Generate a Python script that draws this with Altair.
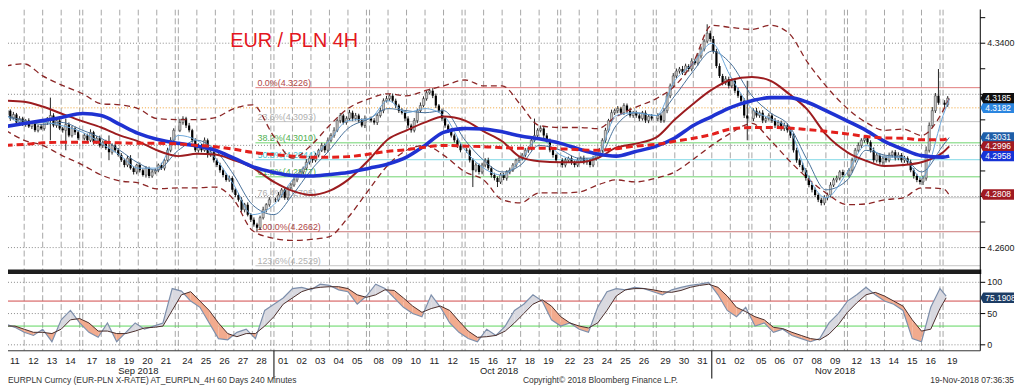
import altair as alt
import pandas as pd

# ---------------- calendar: 4-hour bar index (6 bars per trading day) ----------------
day_labels = ["11", "12", "13", "14", "17", "18", "19", "20", "21", "24", "25", "26", "27", "28",
              "01", "02", "03", "04", "05", "08", "09", "10", "11", "12", "15", "16", "17", "18", "19",
              "22", "23", "24", "25", "26", "29", "30", "31",
              "01", "02", "05", "06", "07", "08", "09", "12", "13", "14", "15", "16", "19"]
day_start = [0, 6, 12, 18, 25, 31, 37, 43, 49, 56, 62, 68, 74, 80, 87, 93, 99, 105, 111,
             118, 124, 130, 136, 142, 149, 155, 161, 167, 173, 180, 186, 192, 198, 204,
             211, 217, 223, 229, 235, 242, 248, 254, 260, 266, 273, 279, 285, 291, 297, 304]
week_end_bar = [24, 55, 86, 117, 148, 179, 210, 241, 272, 303]
month_names = ["Sep 2018", "Oct 2018", "Nov 2018"]
month_label_bar = [43, 160, 269]
month_break_bar = [87, 229]

# ---------------- EURPLN 4H closes (in 1/10000 PLN), one list per day ----------------
first_open = 43120
closes = [
    [43136, 43105, 43121, 43090, 43105, 43082],  # Sep 11
    [43097, 43074, 43090, 43059, 43074, 43066],  # Sep 12
    [43090, 43105, 43117, 43078, 43097, 43066],  # Sep 13
    [43059, 43082, 43039, 43066, 43051, 43028],  # Sep 14
    [43039, 43020, 43051, 43012, 43028, 43000],  # Sep 17
    [43012, 42989, 42973, 43000, 42981, 42962],  # Sep 18
    [42942, 42923, 42950, 42911, 42896, 42923],  # Sep 19
    [42903, 42884, 42911, 42880, 42896, 42903],  # Sep 20
    [42923, 42911, 42942, 42981, 43020, 43059],  # Sep 21
    [43090, 43105, 43078, 43059, 43020, 42981],  # Sep 24
    [43000, 42981, 43020, 42962, 42973, 42942],  # Sep 25
    [42923, 42903, 42884, 42865, 42872, 42826],  # Sep 26
    [42806, 42787, 42748, 42768, 42729, 42709],  # Sep 27
    [42690, 42678, 42717, 42748, 42768, 42787],  # Sep 28
    [42787, 42806, 42826, 42795, 42834, 42845],  # Oct 1
    [42865, 42884, 42896, 42911, 42934, 42950],  # Oct 2
    [42942, 42962, 42981, 43000, 42981, 43020],  # Oct 3
    [43039, 43059, 43097, 43117, 43090, 43105],  # Oct 4
    [43128, 43105, 43117, 43097, 43078, 43105],  # Oct 5
    [43097, 43090, 43117, 43136, 43175, 43183],  # Oct 8
    [43194, 43175, 43156, 43136, 43128, 43105],  # Oct 9
    [43078, 43059, 43097, 43136, 43156, 43183],  # Oct 10
    [43206, 43214, 43194, 43156, 43136, 43105],  # Oct 11
    [43078, 43059, 43039, 43020, 43000, 42981],  # Oct 12
    [42981, 42942, 42903, 42923, 42896, 42923],  # Oct 15
    [42942, 42911, 42884, 42872, 42857, 42884],  # Oct 16
    [42872, 42896, 42903, 42923, 42942, 42950],  # Oct 17
    [42962, 42981, 42989, 43020, 43039, 43059],  # Oct 18
    [43066, 43039, 43020, 42981, 42962, 42942],  # Oct 19
    [42923, 42942, 42950, 42934, 42923, 42942],  # Oct 22
    [42950, 42934, 42942, 42923, 42950, 42962],  # Oct 23
    [42981, 43020, 43059, 43097, 43128, 43136],  # Oct 24
    [43144, 43128, 43156, 43136, 43117, 43128],  # Oct 25
    [43117, 43105, 43128, 43097, 43113, 43105],  # Oct 26
    [43117, 43097, 43136, 43194, 43233, 43272],  # Oct 29
    [43291, 43299, 43284, 43311, 43299, 43330],  # Oct 30
    [43322, 43350, 43377, 43408, 43439, 43416],  # Oct 31
    [43369, 43311, 43272, 43245, 43260, 43233],  # Nov 1
    [43253, 43214, 43194, 43175, 43117, 43105],  # Nov 2
    [43136, 43117, 43128, 43097, 43105, 43117],  # Nov 5
    [43097, 43078, 43090, 43066, 43078, 43059],  # Nov 6
    [43039, 42981, 42942, 42923, 42903, 42872],  # Nov 7
    [42845, 42826, 42806, 42787, 42775, 42795],  # Nov 8
    [42806, 42845, 42865, 42872, 42896, 42884],  # Nov 9
    [42903, 42942, 42981, 43000, 43020, 43028],  # Nov 12
    [43012, 42981, 42942, 42962, 42934, 42950],  # Nov 13
    [42942, 42962, 42973, 42950, 42962, 42942],  # Nov 14
    [42950, 42934, 42903, 42880, 42865, 42857],  # Nov 15
    [42872, 42981, 43078, 43136, 43194, 43167],  # Nov 16
    [43159, 43185],                              # Nov 19
]
# wick lengths above / below each candle body (1/10000 PLN)
wick_hi = [
    [8, 5, 10, 6, 9, 7], [6, 9, 5, 8, 7, 10], [7, 6, 70, 9, 5, 8], [6, 23, 8, 10, 7, 9],
    [9, 7, 12, 6, 8, 10], [7, 10, 50, 8, 6, 9], [8, 6, 9, 12, 7, 5], [10, 7, 8, 6, 9, 7],
    [6, 9, 7, 10, 12, 8], [14, 9, 7, 10, 6, 8], [8, 6, 11, 7, 9, 6], [7, 9, 6, 8, 10, 7],
    [6, 8, 10, 7, 9, 6], [9, 7, 8, 12, 6, 10], [8, 11, 7, 9, 6, 8], [10, 7, 9, 6, 12, 8],
    [7, 9, 6, 10, 8, 11], [9, 12, 8, 10, 7, 9], [11, 8, 10, 7, 9, 12], [8, 10, 7, 12, 9, 11],
    [6, 9, 8, 7, 10, 8], [9, 7, 10, 8, 12, 9], [7, 8, 10, 9, 6, 8], [8, 6, 9, 7, 10, 8],
    [9, 7, 8, 10, 6, 9], [8, 10, 7, 9, 6, 8], [9, 7, 10, 8, 6, 9], [8, 9, 7, 10, 66, 8],
    [12, 8, 9, 7, 10, 6], [8, 9, 6, 10, 7, 9], [7, 10, 8, 6, 9, 8], [9, 8, 10, 7, 12, 8],
    [10, 7, 9, 8, 11, 7], [8, 10, 7, 9, 6, 10], [9, 7, 10, 12, 9, 11], [10, 8, 12, 9, 7, 11],
    [9, 12, 10, 8, 35, 10], [12, 9, 10, 8, 11, 9], [10, 9, 12, 8, 10, 136], [9, 11, 8, 10, 7, 9],
    [8, 10, 9, 7, 11, 8], [9, 8, 10, 7, 9, 8], [10, 8, 9, 7, 8, 10], [9, 11, 8, 10, 7, 9],
    [8, 10, 9, 11, 8, 10], [10, 8, 11, 9, 7, 10], [8, 10, 7, 9, 11, 8], [9, 7, 10, 8, 9, 7],
    [10, 15, 12, 14, 11, 105], [10, 8],
]
wick_lo = [
    [7, 9, 6, 10, 8, 6], [9, 6, 10, 7, 8, 6], [8, 10, 85, 7, 9, 6], [9, 78, 7, 8, 10, 7],
    [8, 10, 7, 9, 6, 8], [10, 7, 31, 9, 8, 6], [7, 9, 8, 6, 10, 9], [9, 6, 10, 8, 7, 9],
    [8, 7, 9, 6, 8, 10], [7, 9, 10, 8, 9, 7], [9, 8, 6, 10, 7, 9], [8, 10, 9, 7, 8, 10],
    [9, 7, 8, 10, 7, 9], [8, 15, 9, 7, 10, 8], [9, 7, 10, 8, 9, 7], [7, 9, 8, 10, 6, 9],
    [10, 8, 9, 7, 10, 8], [8, 9, 7, 10, 8, 9], [9, 10, 8, 9, 7, 10], [7, 9, 10, 8, 10, 7],
    [9, 8, 10, 9, 7, 10], [10, 9, 8, 10, 9, 7], [8, 7, 9, 10, 8, 9], [9, 10, 8, 9, 10, 8],
    [10, 9, 66, 8, 10, 9], [9, 8, 10, 9, 20, 8], [8, 10, 9, 7, 9, 10], [9, 8, 10, 9, 7, 9],
    [8, 10, 9, 8, 10, 9], [10, 9, 8, 10, 9, 8], [9, 8, 10, 9, 8, 10], [8, 10, 9, 8, 10, 9],
    [10, 8, 9, 10, 8, 9], [9, 10, 8, 9, 10, 8], [10, 9, 8, 10, 9, 8], [9, 10, 8, 9, 10, 9],
    [8, 9, 10, 9, 8, 10], [10, 9, 8, 10, 9, 10], [9, 10, 8, 9, 10, 85], [10, 8, 9, 10, 9, 8],
    [9, 10, 8, 9, 10, 9], [10, 9, 10, 8, 9, 10], [9, 10, 8, 9, 10, 9], [10, 9, 8, 10, 9, 8],
    [9, 10, 9, 8, 10, 9], [8, 9, 10, 9, 8, 10], [9, 8, 10, 9, 8, 9], [10, 9, 8, 10, 9, 10],
    [12, 10, 9, 10, 9, 8], [9, 8],
]

# ---------------- indicator lines, read at each day start and at the last bar ----------------
ma_bar = day_start + [306]
ma_fast = [43117, 43090, 43090, 43078, 43051, 43008, 42962, 42911, 42911, 43039,
           43020, 42950, 42845, 42729, 42768, 42865, 42942, 43020, 43097, 43105,
           43175, 43128, 43144, 43117, 42981, 42911, 42884, 42942, 43028, 42962,
           42942, 42962, 43117, 43128, 43117, 43253, 43322, 43400, 43272, 43144,
           43105, 43066, 42884, 42795, 42896, 43000, 42954, 42954, 42872, 43117, 43182]
ma_slow = [43117, 43097, 43082, 43090, 43059, 43028, 42981, 42931, 42903, 42981,
           43020, 42981, 42884, 42768, 42729, 42806, 42903, 42981, 43066, 43105,
           43144, 43136, 43128, 43136, 43020, 42942, 42896, 42923, 43000, 42981,
           42950, 42950, 43078, 43128, 43117, 43194, 43291, 43369, 43322, 43194,
           43128, 43078, 42942, 42826, 42865, 42981, 42962, 42954, 42896, 43000, 43031]
ma_mid = [43175, 43171, 43152, 43125, 43094, 43070, 43039, 43016, 42981, 42958,
          42967, 42964, 42942, 42913, 42857, 42822, 42806, 42822, 42865, 42946,
          43024, 43059, 43090, 43113, 43097, 43055, 43016, 42954, 42938, 42934,
          42934, 42950, 42991, 43006, 43031, 43101, 43163, 43218, 43256, 43268,
          43253, 43202, 43140, 43043, 42973, 42940, 42919, 42923, 42934, 42973, 42996]
ma_long = [43074, 43086, 43097, 43109, 43125, 43117, 43082, 43047, 43024, 43008,
           42998, 42981, 42950, 42917, 42894, 42882, 42880, 42886, 42894, 42911,
           42927, 42954, 43000, 43051, 43066, 43064, 43053, 43037, 43026, 43008,
           42985, 42966, 42958, 42975, 42997, 43029, 43078, 43113, 43148, 43175,
           43187, 43187, 43169, 43136, 43095, 43059, 43016, 42985, 42960, 42954, 42958]
ma_longest = [43000, 43004, 43010, 43012, 43012, 43012, 43010, 43008, 43008, 43006,
              43000, 42995, 42985, 42973, 42964, 42958, 42954, 42954, 42956, 42966,
              42977, 42983, 42993, 43000, 42997, 42995, 42991, 42989, 42989, 42987,
              42983, 42981, 42987, 42997, 43004, 43016, 43028, 43043, 43064, 43070,
              43070, 43068, 43062, 43055, 43045, 43035, 43029, 43028, 43022, 43022, 43031]
bb_upper = [43311, 43319, 43272, 43237, 43202, 43163, 43159, 43144, 43105, 43101,
            43101, 43109, 43144, 43159, 43035, 42950, 43000, 43078, 43144, 43183,
            43202, 43194, 43214, 43233, 43256, 43233, 43233, 43159, 43078, 43070,
            43070, 43066, 43113, 43148, 43183, 43233, 43326, 43470, 43462, 43454,
            43470, 43439, 43326, 43233, 43144, 43090, 43059, 43064, 43039, 43136, 43183]
bb_lower = [43059, 43020, 43000, 42962, 42923, 42884, 42861, 42853, 42830, 42834,
            42834, 42837, 42787, 42667, 42636, 42628, 42632, 42643, 42717, 42830,
            42923, 42981, 43000, 42962, 42896, 42865, 42787, 42775, 42814, 42814,
            42818, 42845, 42865, 42857, 42872, 42896, 42946, 43000, 43047, 43086,
            43020, 42942, 42872, 42814, 42768, 42771, 42787, 42795, 42834, 42830, 42806]

# ---------------- Fibonacci retracement ----------------
fib_names = ["0.0%", "23.6%", "38.2%", "50.0%", "61.8%", "76.4%", "100.0%", "123.6%"]
fib_levels = [4.3226, 4.3093, 4.3010, 4.2944, 4.2877, 4.2795, 4.2662, 4.2529]
fib_start_bar = 81
ref_level = 4.3147

# ---------------- oscillator (every 3rd bar + last bar) ----------------
osc_bar = list(range(0, 304, 3)) + [305]
osc_k = [33, 28, 20, 15, 25, 5, 40, 55, 35, 20, 12, 35, 5, 20, 35, 25, 30, 35, 90, 86,
         70, 60, 35, 10, 8, 20, 25, 10, 55, 65, 75, 90, 92, 88, 97, 95, 88, 85, 65, 78,
         97, 90, 75, 60, 50, 45, 80, 60, 35, 20, 10, 5, 25, 15, 30, 55, 65, 80, 70, 40,
         30, 35, 25, 20, 60, 85, 90, 88, 92, 90, 85, 80, 88, 92, 95, 97, 100, 80, 55, 45,
         60, 30, 35, 20, 25, 15, 10, 5, 10, 35, 50, 70, 80, 92, 80, 70, 65, 55, 10, 5,
         60, 90, 78]
osc_d = [30, 30, 25, 20, 20, 18, 25, 40, 42, 35, 22, 22, 18, 18, 22, 27, 28, 30, 55, 80,
         85, 70, 55, 35, 18, 13, 18, 18, 30, 45, 65, 75, 85, 90, 92, 93, 93, 90, 80, 76,
         80, 88, 87, 75, 62, 52, 58, 62, 55, 38, 22, 12, 13, 15, 22, 35, 50, 65, 72, 62,
         45, 35, 30, 27, 35, 55, 78, 88, 90, 90, 88, 85, 84, 87, 92, 95, 97, 92, 78, 60,
         53, 45, 40, 28, 26, 20, 15, 10, 8, 17, 32, 52, 67, 80, 84, 78, 70, 62, 40, 22,
         25, 58, 75.19]
osc_levels = [70, 30]
osc_ticks = [0, 50, 100]

# ---------------- axis ticks and last-value tags ----------------
price_ticks = [4.26, 4.27, 4.28, 4.29, 4.30, 4.31, 4.32, 4.33, 4.34, 4.35]
price_grid = [4.26, 4.28, 4.30, 4.32, 4.34]
price_tick_labels = [4.26, 4.34]          # the others sit under the value tags
tag_values = [4.3185, 4.3031, 4.2996, 4.2958, 4.2808]
hidden_tag_value = 4.3182
osc_tag_value = 75.1908

title_text = "EUR / PLN 4H"
footer_left = "EURPLN Curncy (EUR-PLN X-RATE) AT_EURPLN_4H 60 Days 240 Minutes"
footer_mid = "Copyright\u00a9 2018 Bloomberg Finance L.P."
footer_right = "19-Nov-2018 07:36:35"

# ---------------- styles ----------------
W, H = 980, 344
X_DOMAIN = [2.363, 314.459]
P_DOMAIN = [4.21961, 4.35320]
O_DOMAIN = [-9.52, 536.5]
FONT = "Liberation Sans"
fib_line_colors = ["#e07a7a", "#c4c4c4", "#6fd36f", "#7fd8e6", "#6fd36f", "#c4c4c4", "#c87474", "#c4c4c4"]
fib_text_colors = ["#b04848", "#b0b0b0", "#4fb04f", "#45bfd0", "#4fb04f", "#b0b0b0", "#b04848", "#b0b0b0"]
tag_colors = ["#101010", "#1f5ea8", "#a01a22", "#1533d6", "#a01a22"]
TAG_SHAPE = "M-1.12,0 L-0.94,-0.33 L1,-0.33 L1,0.33 L-0.94,0.33 Z"

xs = alt.Scale(domain=X_DOMAIN, nice=False, zero=False)
ps = alt.Scale(domain=P_DOMAIN, nice=False, zero=False)
osc_scale = alt.Scale(domain=O_DOMAIN, nice=False, zero=False)


def X(f):
    return alt.X(f, type="quantitative", scale=xs, axis=None)


def YP(f):
    return alt.Y(f, type="quantitative", scale=ps, axis=None)


def YO(f):
    return alt.Y(f, type="quantitative", scale=osc_scale, axis=None)


one = pd.DataFrame({"k": [0]})

# ---------------- build tables ----------------
rows = []
prev = first_open
for d, start in enumerate(day_start):
    for j, c in enumerate(closes[d]):
        o = prev
        h = max(o, c) + wick_hi[d][j]
        l = min(o, c) - wick_lo[d][j]
        rows.append({"xc": start + j + 0.5, "o": o / 1e4, "c": c / 1e4,
                     "h": h / 1e4, "l": l / 1e4, "up": c >= o})
        prev = c
candles = pd.DataFrame(rows)

ma = pd.DataFrame({"bar": ma_bar,
                   "fast": [v / 1e4 for v in ma_fast], "slow": [v / 1e4 for v in ma_slow],
                   "mid": [v / 1e4 for v in ma_mid], "long": [v / 1e4 for v in ma_long],
                   "longest": [v / 1e4 for v in ma_longest],
                   "bbu": [v / 1e4 for v in bb_upper], "bbl": [v / 1e4 for v in bb_lower]})

vlines = pd.DataFrame({"bar": day_start + week_end_bar})
fib = pd.DataFrame({"level": fib_levels, "bar": fib_start_bar,
                    "label": [f"{n}({v:.4f})" for n, v in zip(fib_names, fib_levels)],
                    "lc": fib_line_colors, "tc": fib_text_colors})

osc = pd.DataFrame({"bar": osc_bar, "k": osc_k, "d": osc_d})
seg_rows = []
sid = 0
for i in range(len(osc_bar) - 1):
    x0, x1 = osc_bar[i], osc_bar[i + 1]
    k0, k1 = osc_k[i], osc_k[i + 1]
    d0, d1 = osc_d[i], osc_d[i + 1]
    s0, s1 = k0 - d0, k1 - d1
    if s0 * s1 < 0:
        t = s0 / (s0 - s1)
        xm = x0 + t * (x1 - x0)
        ym = k0 + t * (k1 - k0)
        pieces = [((x0, k0, d0), (xm, ym, ym), s0), ((xm, ym, ym), (x1, k1, d1), s1)]
    else:
        pieces = [((x0, k0, d0), (x1, k1, d1), s0 + s1)]
    for a, b, s in pieces:
        for p in (a, b):
            seg_rows.append({"seg": sid, "bar": p[0], "k": p[1], "d": p[2],
                             "dir": "up" if s >= 0 else "down"})
        sid += 1
segs = pd.DataFrame(seg_rows)

days = pd.DataFrame({"bar": [s + 3 for s in day_start], "label": day_labels})
months = pd.DataFrame({"bar": month_label_bar, "label": month_names})
mbreaks = pd.DataFrame({"bar": month_break_bar})

layers = []

# grid
layers.append(alt.Chart(vlines).mark_rule(color="#a6a6a6", strokeWidth=1, strokeDash=[6, 3], clip=True)
              .encode(x=X("bar"), y=alt.value(0), y2=alt.value(H)))
layers.append(alt.Chart(pd.DataFrame({"v": price_grid})).mark_rule(color="#8a8a8a", strokeDash=[1, 2])
              .encode(y=YP("v"), x=alt.value(0), x2=alt.value(W)))
layers.append(alt.Chart(pd.DataFrame({"v": osc_ticks})).mark_rule(color="#8a8a8a", strokeDash=[1, 2])
              .encode(y=YO("v"), x=alt.value(0), x2=alt.value(W)))

# reference and fibonacci lines
layers.append(alt.Chart(pd.DataFrame({"v": [ref_level]})).mark_rule(color="#f0a030", strokeDash=[1, 2])
              .encode(y=YP("v"), x=alt.value(0), x2=alt.value(W)))
layers.append(alt.Chart(fib).mark_rule(strokeWidth=1, clip=True)
              .encode(y=YP("level"), x=X("bar"), x2=alt.value(W), color=alt.Color("lc:N", scale=None)))
layers.append(alt.Chart(fib).mark_text(align="left", baseline="alphabetic", dx=2, dy=-2, fontSize=9, font=FONT)
              .encode(y=YP("level"), x=X("bar"), text="label:N", color=alt.Color("tc:N", scale=None)))

# candles
layers.append(alt.Chart(candles).mark_rule(color="#222222", strokeWidth=1, clip=True)
              .encode(x=X("xc"), y=YP("l"), y2=alt.Y2("h")))
layers.append(alt.Chart(candles).transform_filter("datum.up").mark_bar(size=2.2, color="#c8c8c8", stroke="#333333", strokeWidth=0.5, clip=True)
              .encode(x=X("xc"), y=YP("o"), y2=alt.Y2("c")))
layers.append(alt.Chart(candles).transform_filter("!datum.up").mark_bar(size=2.2, color="#000000", clip=True)
              .encode(x=X("xc"), y=YP("o"), y2=alt.Y2("c")))

# indicator lines
def ma_line(field, **kw):
    return alt.Chart(ma).mark_line(clip=True, interpolate="monotone", **kw).encode(x=X("bar"), y=YP(field))

layers.append(ma_line("bbu", color="#8b2525", strokeWidth=1.3, strokeDash=[6, 4]))
layers.append(ma_line("bbl", color="#8b2525", strokeWidth=1.3, strokeDash=[6, 4]))
layers.append(ma_line("slow", color="#47709a", strokeWidth=1))
layers.append(ma_line("fast", color="#6aa6da", strokeWidth=1))
layers.append(ma_line("mid", color="#9c1c1f", strokeWidth=2))
layers.append(ma_line("long", color="#1f32d2", strokeWidth=3.6))
layers.append(ma_line("longest", color="#e3201c", strokeWidth=3, strokeDash=[7, 4]))

# oscillator panel
layers.append(alt.Chart(pd.DataFrame({"v": osc_levels, "c": ["#d04848", "#5ed65e"]})).mark_rule(strokeWidth=1)
              .encode(y=YO("v"), x=alt.value(0), x2=alt.value(W), color=alt.Color("c:N", scale=None)))
layers.append(alt.Chart(segs).mark_area(clip=True, opacity=1)
              .encode(x=X("bar"), y=YO("k"), y2=alt.Y2("d"), detail="seg:N",
                      color=alt.Color("dir:N", scale=alt.Scale(domain=["up", "down"], range=["#d9d9e0", "#f2ab8e"]), legend=None)))
layers.append(alt.Chart(osc).mark_line(clip=True, color="#7d8fab", strokeWidth=1.2).encode(x=X("bar"), y=YO("k")))
layers.append(alt.Chart(osc).mark_line(clip=True, color="#4a2e2a", strokeWidth=1).encode(x=X("bar"), y=YO("d")))

# panel divider, frame
layers.append(alt.Chart(one).mark_rect(color="#1e1e1e").encode(x=alt.value(0), x2=alt.value(W + 1), y=alt.value(262), y2=alt.value(266.5)))
layers.append(alt.Chart(one).mark_rule(color="#000000", strokeWidth=1).encode(x=alt.value(W), y=alt.value(0), y2=alt.value(H)))
layers.append(alt.Chart(one).mark_rule(color="#333333", strokeWidth=1).encode(x=alt.value(0), x2=alt.value(W), y=alt.value(H)))

# right axes
layers.append(alt.Chart(pd.DataFrame({"v": price_ticks})).mark_rule(color="#000000")
              .encode(y=YP("v"), x=alt.value(W), x2=alt.value(W + 5)))
layers.append(alt.Chart(pd.DataFrame({"v": price_tick_labels})).mark_text(align="left", baseline="middle", fontSize=9, font=FONT, color="#222222")
              .encode(y=YP("v"), x=alt.value(W + 7), text=alt.Text("v:Q", format=".4f")))
layers.append(alt.Chart(pd.DataFrame({"v": osc_ticks})).mark_rule(color="#000000")
              .encode(y=YO("v"), x=alt.value(W), x2=alt.value(W + 5)))
layers.append(alt.Chart(pd.DataFrame({"v": osc_ticks})).mark_text(align="left", baseline="middle", fontSize=9, font=FONT, color="#222222")
              .encode(y=YO("v"), x=alt.value(W + 7), text=alt.Text("v:Q", format="d")))

# last-value tags (the light-blue one peeks out from under the black one)
hid = pd.DataFrame({"v": [hidden_tag_value]})
layers.append(alt.Chart(hid).mark_point(shape=TAG_SHAPE, size=1024, filled=True, opacity=1, strokeWidth=0, color="#2b86e0", yOffset=9)
              .encode(y=YP("v"), x=alt.value(W + 18)))
layers.append(alt.Chart(hid).mark_text(align="left", baseline="middle", fontSize=8.5, font=FONT, color="#ffffff", yOffset=9)
              .encode(y=YP("v"), x=alt.value(W + 5), text=alt.Text("v:Q", format=".4f")))
tags = pd.DataFrame({"v": tag_values, "c": tag_colors})
layers.append(alt.Chart(tags).mark_point(shape=TAG_SHAPE, size=1024, filled=True, opacity=1, strokeWidth=0)
              .encode(y=YP("v"), x=alt.value(W + 18), color=alt.Color("c:N", scale=None)))
layers.append(alt.Chart(tags).mark_text(align="left", baseline="middle", fontSize=8.5, font=FONT, color="#ffffff")
              .encode(y=YP("v"), x=alt.value(W + 5), text=alt.Text("v:Q", format=".4f")))
otag = pd.DataFrame({"v": [osc_tag_value]})
layers.append(alt.Chart(otag).mark_point(shape=TAG_SHAPE, size=1024, filled=True, opacity=1, strokeWidth=0, color="#1c3c64")
              .encode(y=YO("v"), x=alt.value(W + 18)))
layers.append(alt.Chart(otag).mark_text(align="left", baseline="middle", fontSize=8.5, font=FONT, color="#ffffff")
              .encode(y=YO("v"), x=alt.value(W + 5), text=alt.Text("v:Q", format=".4f")))

# date axis
layers.append(alt.Chart(days).mark_text(align="center", baseline="middle", fontSize=9.5, font=FONT, color="#222222")
              .encode(x=X("bar"), y=alt.value(H + 10), text="label:N"))
layers.append(alt.Chart(months).mark_text(align="center", baseline="middle", fontSize=9.5, font=FONT, color="#222222")
              .encode(x=X("bar"), y=alt.value(H + 20), text="label:N"))
layers.append(alt.Chart(mbreaks).mark_rule(color="#000000", strokeWidth=1)
              .encode(x=X("bar"), y=alt.value(H), y2=alt.value(H + 28)))

# title and footer
layers.append(alt.Chart(pd.DataFrame({"t": [title_text]})).mark_text(align="left", baseline="middle", fontSize=20, font=FONT, color="#e3161e")
              .encode(x=alt.value(224), y=alt.value(32), text="t:N"))
layers.append(alt.Chart(pd.DataFrame({"t": [footer_left]})).mark_text(align="left", baseline="middle", fontSize=8.5, font=FONT, color="#333333")
              .encode(x=alt.value(0), y=alt.value(H + 29), text="t:N"))
layers.append(alt.Chart(pd.DataFrame({"t": [footer_mid]})).mark_text(align="left", baseline="middle", fontSize=8.5, font=FONT, color="#333333")
              .encode(x=alt.value(519), y=alt.value(H + 29), text="t:N"))
layers.append(alt.Chart(pd.DataFrame({"t": [footer_right]})).mark_text(align="right", baseline="middle", fontSize=8.5, font=FONT, color="#333333")
              .encode(x=alt.value(W + 34), y=alt.value(H + 29), text="t:N"))

chart = (alt.layer(*layers)
         .resolve_scale(y="independent")
         .properties(width=W, height=H,
                     autosize=alt.AutoSizeParams(type="none"),
                     padding={"left": 0, "top": 0, "right": 36, "bottom": 33})
         .configure_view(strokeWidth=0))

chart.save("out.html", embed_options={"renderer": "svg", "actions": False})
